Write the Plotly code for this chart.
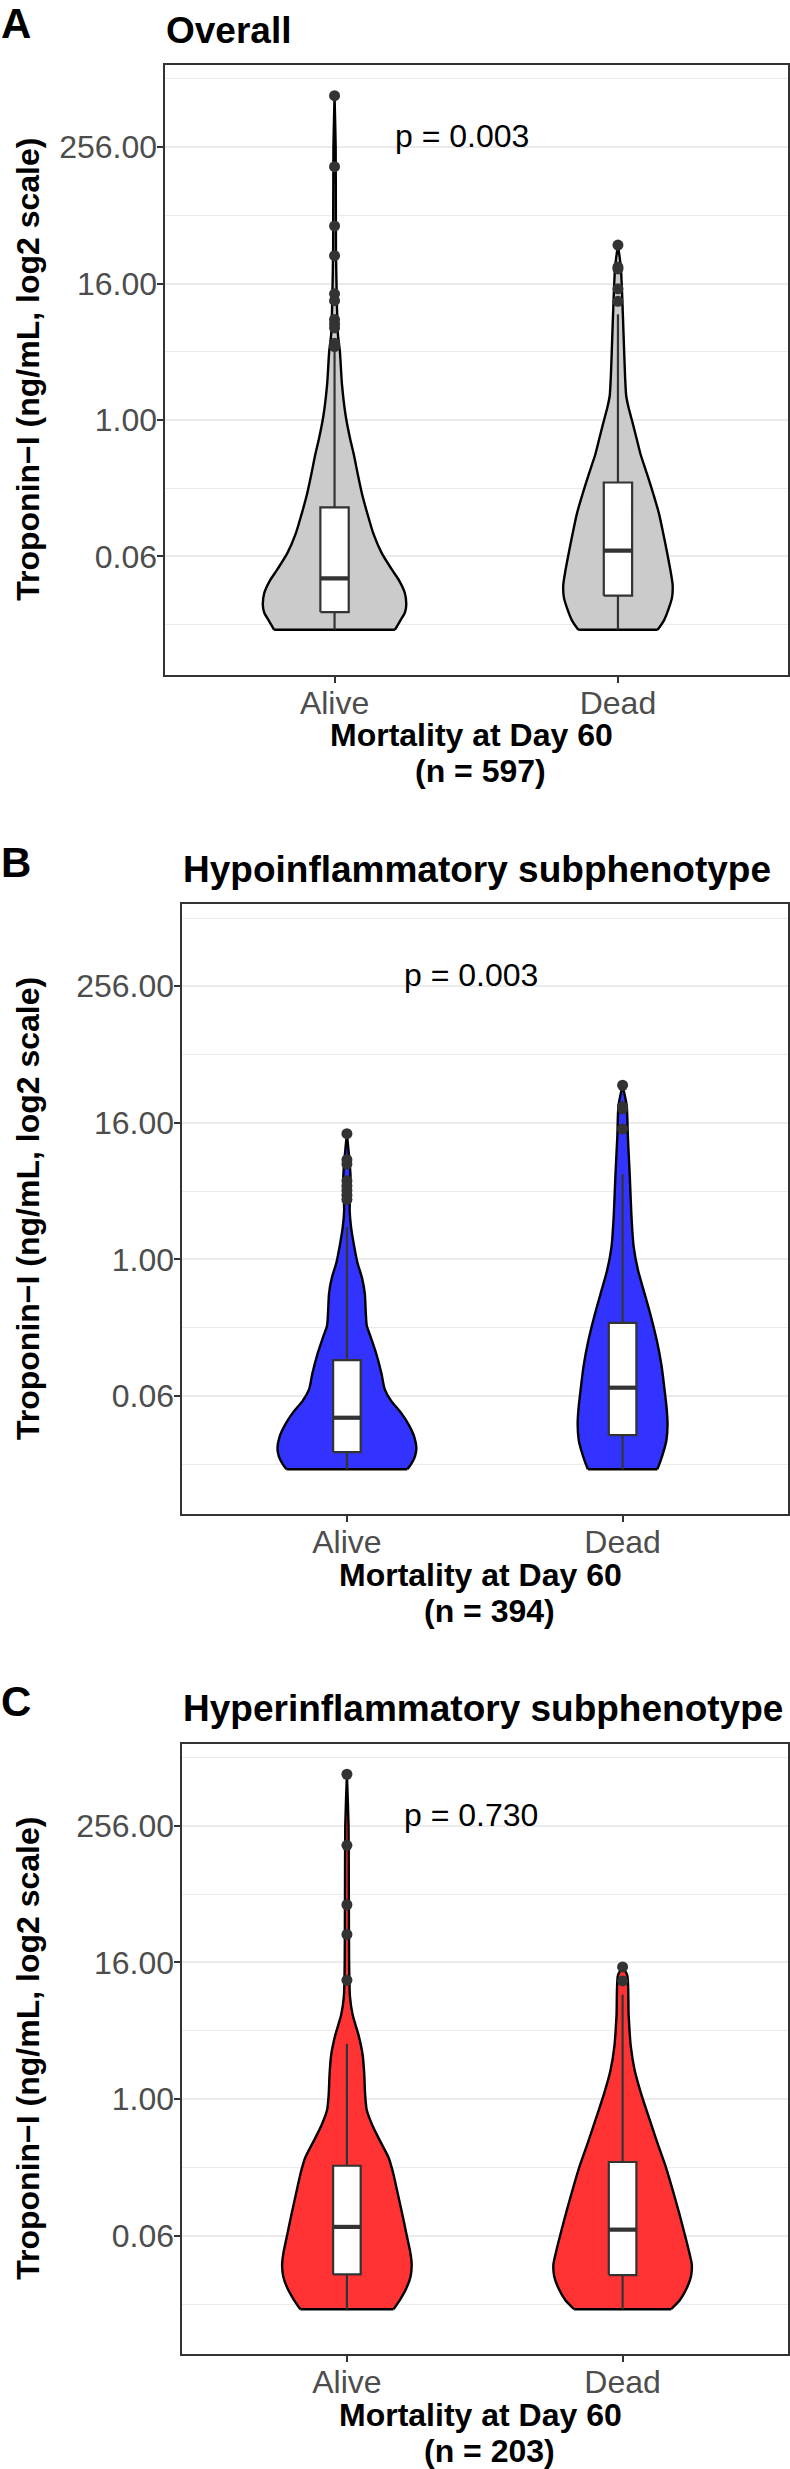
import numpy as np
import plotly.graph_objects as go
from plotly.subplots import make_subplots

W, H = 790, 2469

groups = ["Alive", "Dead"]
titles = ["Overall", "Hypoinflammatory subphenotype", "Hyperinflammatory subphenotype"]
letters = ["A", "B", "C"]
n_text = ["(n = 597)", "(n = 394)", "(n = 203)"]
p_text = ["p = 0.003", "p = 0.003", "p = 0.730"]
fills = ["#CBCBCB", "#3333FF", "#FF3333"]

# violin outlines:
# level = log2(troponin, ng/mL), hw = half width in x units
a_alive_lvl = [-6.15, -5.88, -5.65, -5.42, -5.07, -4.72, -4.38, -3.91, -3.33, -2.75, -2.17,
               -1.59, -1.01, -0.55, 0.14, 1.07, 2.0, 2.5, 3.5, 5.0, 8.0, 9.51]
a_alive_hw = [0.213, 0.232, 0.248, 0.253, 0.248, 0.229, 0.202, 0.167, 0.137, 0.116, 0.097,
              0.082, 0.068, 0.055, 0.039, 0.026, 0.019, 0.012, 0.008, 0.005, 0.004, 0.0]
a_dead_lvl = [-6.15, -5.88, -5.53, -5.19, -4.84, -4.49, -3.91, -3.33, -2.75, -2.17, -1.59,
              -1.01, -0.55, -0.09, 0.38, 0.72, 1.30, 2.46, 3.62, 4.5, 5.13]
a_dead_hw = [0.140, 0.162, 0.179, 0.191, 0.193, 0.187, 0.174, 0.160, 0.145, 0.125, 0.103,
             0.080, 0.066, 0.052, 0.037, 0.029, 0.025, 0.020, 0.015, 0.010, 0.0]

b_alive_lvl = [-6.15, -6.0, -5.77, -5.53, -5.19, -4.84, -4.49, -4.14, -3.80, -3.33, -2.75,
               -2.29, -1.94, -1.48, -1.01, -0.55, -0.09, 0.49, 0.95, 1.42, 2.46, 3.68]
b_alive_hw = [0.219, 0.233, 0.247, 0.252, 0.244, 0.224, 0.196, 0.160, 0.137, 0.125, 0.106,
              0.087, 0.072, 0.068, 0.065, 0.055, 0.038, 0.024, 0.015, 0.010, 0.013, 0.0]
b_dead_lvl = [-6.15, -5.94, -5.65, -5.30, -4.84, -4.38, -3.80, -3.10, -2.41, -1.71, -1.01,
              -0.32, 0.38, 1.30, 2.46, 3.62, 4.5, 5.10]
b_dead_hw = [0.126, 0.136, 0.148, 0.159, 0.163, 0.160, 0.152, 0.141, 0.125, 0.104, 0.080,
             0.056, 0.040, 0.032, 0.026, 0.019, 0.015, 0.0]

c_alive_lvl = [-6.15, -5.88, -5.53, -5.19, -4.84, -4.49, -3.91, -3.33, -2.75, -2.17, -1.71,
               -1.25, -0.78, -0.32, 0.14, 0.72, 1.30, 1.88, 2.46, 3.01, 4.0, 6.0, 8.0, 9.51]
c_alive_hw = [0.169, 0.192, 0.216, 0.231, 0.235, 0.230, 0.215, 0.200, 0.184, 0.168, 0.151,
              0.122, 0.093, 0.072, 0.066, 0.063, 0.057, 0.042, 0.021, 0.011, 0.008, 0.007,
              0.006, 0.0]
c_dead_lvl = [-6.15, -5.88, -5.53, -5.19, -4.84, -4.49, -3.91, -3.33, -2.64, -1.94, -1.25,
              -0.55, 0.14, 0.84, 1.53, 2.46, 3.62, 3.87]
c_dead_hw = [0.176, 0.208, 0.233, 0.248, 0.251, 0.242, 0.224, 0.205, 0.181, 0.155, 0.125,
             0.096, 0.068, 0.044, 0.030, 0.022, 0.017, 0.0]

# box stats in log2: lower whisker, q1, median, q3, upper whisker
a_alive_box = [-6.15, -5.63, -4.64, -2.56, 2.0]
a_dead_box = [-6.15, -5.15, -3.83, -1.83, 3.10]
b_alive_box = [-6.15, -5.65, -4.64, -2.95, 0.95]
b_dead_box = [-6.15, -5.15, -3.76, -1.86, 2.50]
c_alive_box = [-6.15, -5.13, -3.74, -1.95, 1.62]
c_dead_box = [-6.15, -5.15, -3.82, -1.84, 3.06]

# outliers in log2
a_alive_out = [9.51, 7.43, 5.69, 4.82, 3.70, 3.50, 2.95, 2.82, 2.70, 2.25, 2.15]
a_dead_out = [5.13, 4.49, 4.43, 3.85, 3.48]
b_alive_out = [3.68, 2.92, 2.79, 2.30, 2.15, 2.02, 1.88, 1.75]
b_dead_out = [5.10, 4.47, 4.41, 3.82]
c_alive_out = [9.51, 7.43, 5.69, 4.82, 3.48]
c_dead_out = [3.87, 3.46]

y_ticks = [0.0625, 1, 16, 256]
y_ticktext = ["0.06", "1.00", "16.00", "256.00"]
y_minor = [2**-6, 2**-2, 2**2, 2**6, 2**10]
p_level = 256

panels = [
    [(a_alive_lvl, a_alive_hw, a_alive_box, a_alive_out),
     (a_dead_lvl, a_dead_hw, a_dead_box, a_dead_out)],
    [(b_alive_lvl, b_alive_hw, b_alive_box, b_alive_out),
     (b_dead_lvl, b_dead_hw, b_dead_box, b_dead_out)],
    [(c_alive_lvl, c_alive_hw, c_alive_box, c_alive_out),
     (c_dead_lvl, c_dead_hw, c_dead_box, c_dead_out)],
]

# panel frames in pixels: left, top, bottom (right edge shared)
frames = [(164.5, 65, 674.5), (181.5, 904, 1514), (181.5, 1743.5, 2354)]
right = 788
box_w = 0.1
FONT = "Liberation Sans, Arial, sans-serif"
EDGE = "#333333"


def py(px):
    return 1 - px / H


def mid(baseline, size):
    # paper y of the text box middle for a given baseline pixel
    return py(baseline - 0.35 * size)


fig = make_subplots(rows=3, cols=1)

for i, panel in enumerate(panels):
    r = i + 1
    for j, (lvl, hw, bx, out) in enumerate(panel):
        c = j + 1
        yv = np.exp2(lvl)
        hw = np.array(hw)
        # violin body
        fig.add_trace(go.Scatter(
            x=np.concatenate([c - hw, (c + hw)[::-1]]),
            y=np.concatenate([yv, yv[::-1]]),
            mode="lines", fill="toself", fillcolor=fills[i],
            line=dict(color="black", width=2.4, shape="spline", smoothing=0.6),
            hoverinfo="skip", showlegend=False), row=r, col=1)
        # flat trimmed bottom
        fig.add_trace(go.Scatter(
            x=[c - hw[0], c + hw[0]], y=[yv[0], yv[0]], mode="lines",
            line=dict(color="black", width=2.4), hoverinfo="skip", showlegend=False),
            row=r, col=1)
        lo, q1, med, q3, hi = np.exp2(bx)
        # outliers
        fig.add_trace(go.Scatter(
            x=[c] * len(out), y=np.exp2(out), mode="markers",
            marker=dict(color=EDGE, size=11, line=dict(width=0)),
            hoverinfo="skip", showlegend=False), row=r, col=1)
        # whiskers
        fig.add_trace(go.Scatter(
            x=[c, c, None, c, c], y=[lo, q1, None, q3, hi], mode="lines",
            line=dict(color=EDGE, width=2.2), hoverinfo="skip", showlegend=False),
            row=r, col=1)
        # box
        fig.add_trace(go.Scatter(
            x=[c - box_w / 2, c + box_w / 2, c + box_w / 2, c - box_w / 2, c - box_w / 2],
            y=[q1, q1, q3, q3, q1], mode="lines", fill="toself", fillcolor="white",
            line=dict(color=EDGE, width=2.2), hoverinfo="skip", showlegend=False),
            row=r, col=1)
        # median
        fig.add_trace(go.Scatter(
            x=[c - box_w / 2, c + box_w / 2], y=[med, med], mode="lines",
            line=dict(color=EDGE, width=4.2), hoverinfo="skip", showlegend=False),
            row=r, col=1)

    left, top, bottom = frames[i]
    fig.update_xaxes(
        domain=[left / W, right / W], range=[0.4, 2.6],
        tickmode="array", tickvals=[1, 2], ticktext=groups,
        ticks="outside", ticklen=6, tickwidth=2, tickcolor=EDGE,
        ticklabelstandoff=-7,
        tickfont=dict(size=32, color="#4D4D4D", family=FONT),
        showgrid=False, zeroline=False,
        showline=True, mirror=True, linecolor=EDGE, linewidth=2,
        row=r, col=1)
    fig.update_yaxes(
        domain=[py(bottom), py(top)], type="log",
        range=[-7.46 * np.log10(2), 10.41 * np.log10(2)],
        tickmode="array", tickvals=y_ticks, ticktext=y_ticktext,
        ticks="outside", ticklen=6, tickwidth=2, tickcolor=EDGE,
        ticklabelstandoff=-7,
        tickfont=dict(size=32, color="#4D4D4D", family=FONT),
        showgrid=True, gridcolor="#EBEBEB", gridwidth=1.8,
        minor=dict(tickmode="array", tickvals=y_minor, showgrid=True,
                   gridcolor="#EBEBEB", gridwidth=1.2, ticks=""),
        zeroline=False, showline=True, mirror=True, linecolor=EDGE, linewidth=2,
        row=r, col=1)

    xc = (left + right) / 2
    xref = "x" if r == 1 else f"x{r}"
    yref = "y" if r == 1 else f"y{r}"
    ann = [
        dict(text=f"<b>{letters[i]}</b>", x=0, xanchor="left", y=mid(top - 27, 42),
             font=dict(size=42)),
        dict(text=f"<b>{titles[i]}</b>", x=left / W, xanchor="left", y=mid(top - 22, 37),
             font=dict(size=37)),
        dict(text="<b>Troponin\u2212I (ng/mL, log2 scale)</b>", textangle=-90,
             x=28 / W, xanchor="center", y=py((top + bottom) / 2), font=dict(size=32)),
        dict(text="<b>Mortality at Day 60</b>", x=(xc - 4.5) / W, xanchor="center",
             y=mid(bottom + 72, 32), font=dict(size=32)),
        dict(text=f"<b>{n_text[i]}</b>", x=(xc + 4.5) / W, xanchor="center",
             y=mid(bottom + 108, 32), font=dict(size=32)),
    ]
    for a in ann:
        fig.add_annotation(xref="paper", yref="paper", yanchor="middle", showarrow=False,
                           borderpad=0, **a)
    fig.add_annotation(text=p_text[i], xref=xref, yref=yref, x=1.45,
                       y=np.log10(p_level), yanchor="middle", yshift=0.35 * 32,
                       xanchor="center", showarrow=False, borderpad=0,
                       font=dict(size=32, color="black"))

fig.update_layout(
    width=W, height=H, margin=dict(l=0, r=0, t=0, b=0),
    paper_bgcolor="white", plot_bgcolor="white",
    font=dict(family=FONT, color="black"),
    showlegend=False,
)

# the page body keeps its default 8px margin otherwise
fig.write_html("out.html", config={"displayModeBar": False},
               post_script="document.body.style.margin='0';")
